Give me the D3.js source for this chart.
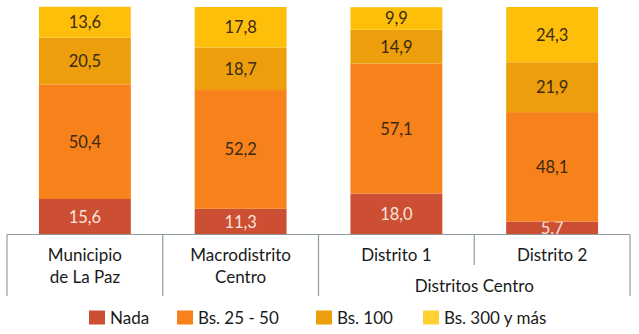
<!DOCTYPE html>
<html><head><meta charset="utf-8">
<script src="https://cdn.jsdelivr.net/npm/d3@7"></script>
<style>body{margin:0;background:#fff}svg{display:block}text{font-family:Lato,"Open Sans",sans-serif}</style>
</head><body>
<svg id="c" width="639" height="334"></svg>
<script>
const categories = ["Municipio de La Paz","Macrodistrito Centro","Distrito 1","Distrito 2"];
const categoryLines = [["Municipio","de La Paz"],["Macrodistrito","Centro"],["Distrito 1"],["Distrito 2"]];
const seriesNames = ["Nada","Bs. 25 - 50","Bs. 100","Bs. 300 y más"];
const nada = [15.6, 11.3, 18.0, 5.7];
const bs25_50 = [50.4, 52.2, 57.1, 48.1];
const bs100 = [20.5, 18.7, 14.9, 21.9];
const bs300 = [13.6, 17.8, 9.9, 24.3];
const groupLabel = "Distritos Centro";

const colors = ["#CC4E33","#F7821B","#EC9E0C","#FEBF0A"];
const legendColors = ["#CC4E33","#F7821B","#EC9E0C","#FFD133"];
const labelColors = ["#F7E4DC","#3A2A12","#3A2A12","#3A2A12"];

const svg = d3.select("#c");
const x = d3.scaleBand().domain(categories).range([7,630]).paddingInner(0.41).paddingOuter(0.205);
const y = d3.scaleLinear().domain([0,100]).range([234.5,7]);

const rows = categories.map((c,i)=>({cat:c, Nada:nada[i], "Bs. 25 - 50":bs25_50[i], "Bs. 100":bs100[i], "Bs. 300 y más":bs300[i]}));
const stack = d3.stack().keys(seriesNames)(rows);

stack.forEach((layer,si)=>{
  const g = svg.append("g");
  g.selectAll("rect").data(layer).join("rect")
    .attr("x", d=>x(d.data.cat)).attr("width", x.bandwidth())
    .attr("y", d=>y(d[1])).attr("height", d=>y(d[0])-y(d[1]))
    .attr("fill", colors[si]);
  g.selectAll("text").data(layer).join("text")
    .attr("x", d=>x(d.data.cat)+x.bandwidth()/2)
    .attr("y", d=>(y(d[0])+y(d[1]))/2)
    .attr("dy","0.36em").attr("text-anchor","middle")
    .attr("font-size",16.5).attr("fill",labelColors[si])
    .text(d=>d3.format(".1f")(d[1]-d[0]).replace(".",","));
});

// axis frame
const axisColor = "#8E9C9C";
const step = x.step();
const bounds = categories.map(c=>x(c)+x.bandwidth()/2 - step/2).concat([x(categories[3])+x.bandwidth()/2+step/2]);
svg.append("line").attr("x1",bounds[0]).attr("x2",bounds[4]).attr("y1",y(0)).attr("y2",y(0))
  .attr("stroke",axisColor).attr("stroke-width",1.2);
bounds.forEach((b,i)=>{
  const bottom = (i===3) ? 265 : 296;
  svg.append("line").attr("x1",b).attr("x2",b).attr("y1",y(0)).attr("y2",bottom)
    .attr("stroke",axisColor).attr("stroke-width",1.2);
});

categoryLines.forEach((lines,i)=>{
  const cx = x(categories[i])+x.bandwidth()/2;
  lines.forEach((l,j)=>{
    svg.append("text").attr("x",cx).attr("y", lines.length===1 ? 261 : 261+j*22)
      .attr("text-anchor","middle").attr("font-size",17).attr("fill","#1a1a1a").text(l);
  });
});
svg.append("text").attr("x",(bounds[2]+bounds[4])/2).attr("y",292)
  .attr("text-anchor","middle").attr("font-size",17).attr("fill","#1a1a1a").text(groupLabel);

// legend
const legendX = [89,177,316,423];
seriesNames.forEach((s,i)=>{
  svg.append("rect").attr("x",legendX[i]).attr("y",310.5).attr("width",16).attr("height",14).attr("fill",legendColors[i]);
  svg.append("text").attr("x",legendX[i]+21).attr("y",324).attr("font-size",17).attr("fill","#1a1a1a").text(s);
});
</script>
</body></html>
